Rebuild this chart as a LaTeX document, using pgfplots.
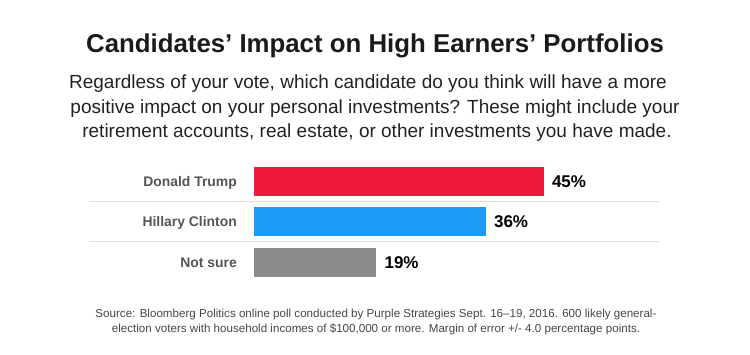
\documentclass[border=0pt]{standalone}
\usepackage{pgfplots}
\pgfplotsset{compat=1.18}
\usepackage{fontspec}
\setmainfont{Liberation Sans}
\definecolor{trump}{RGB}{240,24,60}
\definecolor{clinton}{RGB}{30,155,245}
\definecolor{notsure}{RGB}{140,140,140}
\definecolor{sepline}{RGB}{222,222,222}
\definecolor{titlec}{RGB}{26,26,26}
\definecolor{subc}{RGB}{34,34,34}
\definecolor{catc}{RGB}{85,85,85}
\definecolor{srcc}{RGB}{70,70,70}
\begin{document}
\begin{tikzpicture}[x=1pt,y=1pt]
\useasboundingbox (0,0) rectangle (750,355);
% title
\node[anchor=base, inner sep=0pt, text=titlec, font=\bfseries\fontsize{25.8}{30}\selectfont] at (375,302) {Candidates’ Impact on High Earners’ Portfolios};
% subtitle
\begin{scope}[every node/.style={anchor=base, inner sep=0pt, text=subc, font=\fontsize{19}{23}\selectfont}]
\node at (368,266) {Regardless of your vote, which candidate do you think will have a more};
\node at (375,241.5) {positive impact on your personal investments? These might include your};
\node at (377,217) {retirement accounts, real estate, or other investments you have made.};
\end{scope}
% source
\begin{scope}[every node/.style={anchor=base, inner sep=0pt, text=srcc, font=\fontsize{11.6}{14}\selectfont}]
\node at (376,37) {Source: Bloomberg Politics online poll conducted by Purple Strategies Sept. 16–19, 2016. 600 likely general-};
\node at (376,22.5) {election voters with household incomes of \$100,000 or more. Margin of error +/- 4.0 percentage points.};
\end{scope}
\begin{axis}[
  at={(254pt,72.5pt)}, anchor=south west,
  scale only axis, width=406pt, height=121.5pt,
  xmin=0, xmax=63.04, ymin=-0.5, ymax=2.5,
  y dir=reverse,
  axis line style={draw=none},
  xtick=\empty,
  ytick={0,1,2},
  yticklabels={Donald Trump, Hillary Clinton, Not sure},
  major tick length=0pt,
  yticklabel style={font=\bfseries\fontsize{13.9}{17}\selectfont, text=catc, anchor=base east, inner sep=0pt, xshift=-17pt, yshift=-5pt},
  clip=false,
  xbar, bar width=29pt, /pgf/bar shift=0pt,
  /pgf/number format/assume math mode=true,
  nodes near coords={\pgfmathprintnumber{\pgfplotspointmeta}\%},
  nodes near coords style={font=\bfseries\fontsize{17}{20}\selectfont, text=black, anchor=base west, inner sep=0pt, xshift=8pt, yshift=-5.8pt},
]
\addplot[fill=trump, draw=none] coordinates {(45,0)};
\addplot[fill=clinton, draw=none] coordinates {(36,1)};
\addplot[fill=notsure, draw=none] coordinates {(19,2)};
\draw[sepline, line width=1pt] (axis cs:-25.47,0.5) -- (axis cs:63.04,0.5);
\draw[sepline, line width=1pt] (axis cs:-25.47,1.5) -- (axis cs:63.04,1.5);
\end{axis}
\end{tikzpicture}
\end{document}
